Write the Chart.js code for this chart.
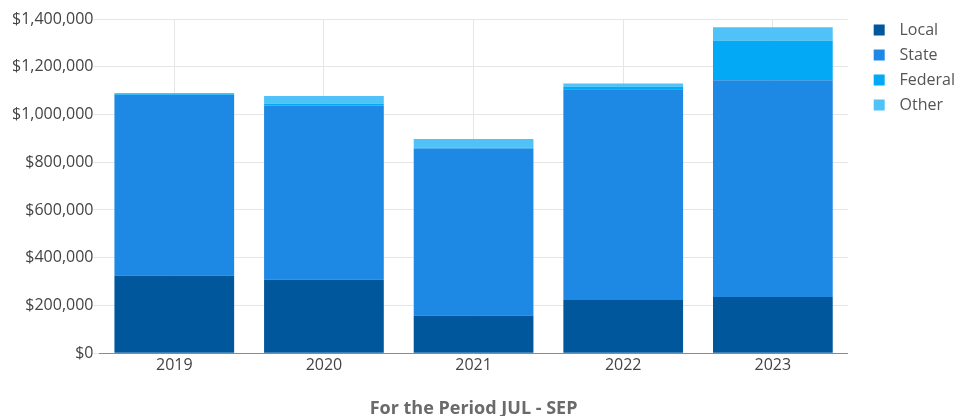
<!DOCTYPE html>
<html>
<head>
<meta charset="utf-8">
<script src="https://cdn.jsdelivr.net/npm/chart.js@4/dist/chart.umd.min.js"></script>
<style>
  html, body { margin: 0; padding: 0; background: #fff; }
  #wrap { position: relative; width: 960px; height: 416px; }
</style>
</head>
<body>
<div id="wrap"><canvas id="chart"></canvas></div>
<script>
// Revenue by source for the July - September period, per year
const years = ['2019', '2020', '2021', '2022', '2023'];
const localValues   = [325000, 308000, 158000, 223000, 235000];
const stateValues   = [757000, 730000, 700000, 883000, 908000];
const federalValues = [3000, 7000, 3000, 10000, 166000];
const otherValues   = [5000, 32000, 36000, 14000, 56000];
const yTicks = [0, 200000, 400000, 600000, 800000, 1000000, 1200000, 1400000];

const colors = {
  local: '#01579b',
  state: '#1e88e5',
  federal: '#03a9f4',
  other: '#4fc3f7'
};

const money = v => '$' + Number(v).toLocaleString('en-US');

const ds = (label, data, color) => ({
  label, data,
  backgroundColor: color,
  borderColor: color,
  borderWidth: 0,
  barPercentage: 0.8,
  categoryPercentage: 1.0
});

// blank spacer scale used to hold room around the plot
const spacer = (position, size) => ({
  position,
  display: true,
  grid: { display: false, drawTicks: false },
  border: { display: false },
  ticks: { display: false },
  afterFit: axis => {
    if (axis.isHorizontal()) axis.height = size; else axis.width = size;
  }
});

Chart.defaults.font.family = '"Open Sans", sans-serif';

new Chart(document.getElementById('chart'), {
  type: 'bar',
  data: {
    labels: years,
    datasets: [
      ds('Local', localValues, colors.local),
      ds('State', stateValues, colors.state),
      ds('Federal', federalValues, colors.federal),
      ds('Other', otherValues, colors.other)
    ]
  },
  options: {
    responsive: true,
    maintainAspectRatio: false,
    animation: false,
    layout: { padding: { top: 13, right: -5, left: 12, bottom: -4 } },
    plugins: {
      tooltip: { enabled: false },
      legend: {
        position: 'right',
        align: 'start',
        labels: {
          boxWidth: 11,
          boxHeight: 11,
          padding: 9,
          color: '#555',
          font: { size: 16 },
          generateLabels: chart => Chart.defaults.plugins.legend.labels.generateLabels(chart)
            .map(item => Object.assign(item, { text: ' \u2006' + item.text }))
        }
      }
    },
    scales: {
      x: {
        stacked: true,
        grid: { offset: false, color: '#e6e6e6', drawTicks: false },
        border: { display: true, color: '#8a8a8a' },
        ticks: { color: '#444', font: { size: 16 }, padding: 3 },
        title: {
          display: true,
          text: 'For the Period JUL - SEP',
          color: '#6a6a6a',
          font: { size: 18, weight: 'bold' },
          padding: { top: 20, bottom: 0 }
        }
      },
      y: {
        stacked: true,
        min: 0,
        max: 1400000,
        afterBuildTicks: axis => { axis.ticks = yTicks.map(v => ({ value: v })); },
        grid: { color: '#e6e6e6', drawTicks: true, tickLength: 6 },
        border: { display: false },
        ticks: { color: '#444', font: { size: 16 }, padding: 0, callback: v => money(v) }
      },
      gutterRight: spacer('right', 17),
      gutterTop: spacer('top', 6)
    }
  }
});
</script>
</body>
</html>
